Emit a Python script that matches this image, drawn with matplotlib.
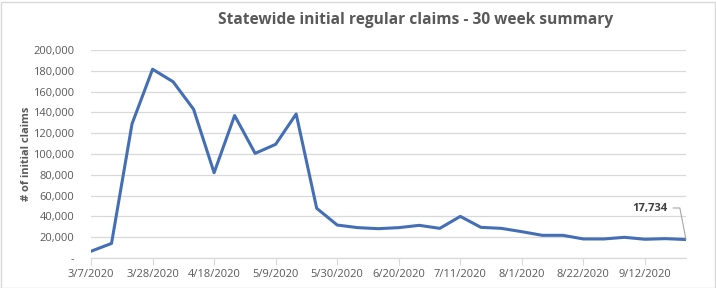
import matplotlib
matplotlib.use('Agg')
import matplotlib.pyplot as plt
from matplotlib.patches import Rectangle
import pandas as pd

weeks = pd.date_range('2020-03-07', periods=30, freq='7D')
week_labels = ['{}/{}/{}'.format(d.month, d.day, d.year) for d in weeks]

claims = [6500, 14000, 129000, 181500, 169500, 143000, 82000, 137000, 100600, 109300,
          138500, 47800, 31700, 29200, 28200, 29200, 31400, 28500, 40000, 29500,
          28500, 25300, 21800, 21800, 18300, 18300, 19900, 18000, 18600, 17734]

y_ticks = [0, 20000, 40000, 60000, 80000, 100000, 120000, 140000, 160000, 180000, 200000]

TEXT = '#595959'
GRID = '#d9d9d9'
BLUE = '#456fb5'
FONT = 'Open Sans'

fig = plt.figure(figsize=(7.16, 2.88), dpi=100)
ax = fig.add_axes([91 / 716, 30 / 288, 595 / 716, 208 / 288])

x = list(range(len(claims)))
ax.plot(x, claims, color=BLUE, lw=2.2, solid_joinstyle='round', zorder=3)

ax.set_xlim(0, len(claims) - 1)
ax.set_ylim(0, 200000)
ax.set_yticks(y_ticks)
ax.set_yticklabels(['-' if v == 0 else '{:,}'.format(v) for v in y_ticks],
                   fontsize=8, color=TEXT, family=FONT)
ax.set_xticks(x[::3])
ax.set_xticklabels(week_labels[::3], fontsize=8, color=TEXT, family=FONT)
ax.tick_params(axis='y', length=0, pad=12)
ax.tick_params(axis='x', length=5, color=GRID, pad=3)
ax.grid(axis='y', color=GRID, lw=0.9)
ax.set_axisbelow(True)
for s in ['top', 'right', 'left']:
    ax.spines[s].set_visible(False)
ax.spines['bottom'].set_color(GRID)
ax.spines['bottom'].set_linewidth(0.9)

ax.set_ylabel('# of initial claims', fontsize=8, color=TEXT, family=FONT,
              fontweight='bold', labelpad=1)

fig.text(416 / 716, 1 - 20 / 288, 'Statewide initial regular claims - 30 week summary',
         ha='center', va='center', fontsize=11.2, fontweight='bold', color=TEXT, family=FONT)

# data label for last week
ax.annotate('{:,}'.format(claims[-1]), xy=(x[-1], claims[-1]),
            xytext=(650 / 716, 1 - 208 / 288), textcoords='figure fraction',
            ha='center', va='center', fontsize=8, fontweight='bold', color='#404040', family=FONT,
            arrowprops=dict(arrowstyle='-', color='#a6a6a6', lw=0.8,
                            connectionstyle='angle,angleA=0,angleB=101,rad=0',
                            shrinkA=2, shrinkB=0))

fig.patches.append(Rectangle((0.5 / 716, 0.5 / 288), 714 / 716, 286 / 288, transform=fig.transFigure,
                             fill=False, edgecolor=GRID, lw=1))

fig.savefig('out.png', dpi=100)
